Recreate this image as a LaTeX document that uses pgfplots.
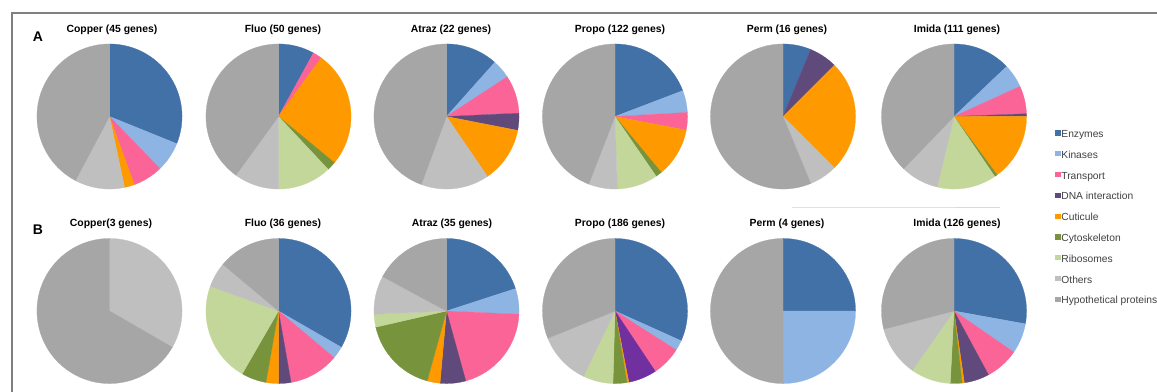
\documentclass[border=0pt]{standalone}
\usepackage{pgfplots}
\usepackage{pgfplotstable}
\pgfplotsset{compat=1.18}
\usepackage{fontspec}
\setmainfont{Liberation Sans}

\definecolor{c0}{RGB}{66,113,167}
\definecolor{c1}{RGB}{142,180,227}
\definecolor{c2}{RGB}{250,100,150}
\definecolor{c3}{RGB}{96,74,123}
\definecolor{c4}{RGB}{255,153,0}
\definecolor{c5}{RGB}{119,147,60}
\definecolor{c6}{RGB}{196,215,155}
\definecolor{c7}{RGB}{191,191,191}
\definecolor{c8}{RGB}{166,166,166}
% variant palette (vivid purple for DNA interaction in Propo B)
\colorlet{d0}{c0}\colorlet{d1}{c1}\colorlet{d2}{c2}
\definecolor{d3}{RGB}{112,48,160}
\colorlet{d4}{c4}\colorlet{d5}{c5}\colorlet{d6}{c6}\colorlet{d7}{c7}\colorlet{d8}{c8}
\definecolor{bordergray}{RGB}{128,128,128}

% Row A: shares per category
\pgfplotstableread{
cat      CopperA FluoA AtrazA PropoA PermA ImidaA
Enzymes      14     4   11.6   19.2     1   12.9
Kinases       3     0    4.2    4.9     0    5.3
Transport     3     1    8.5    3.9     0    6.2
DNA           0     0    3.8    0.0     1    0.6
Cuticule      1    13   12.4   11.0     4   14.9
Cytoskeleton  0     1    0.0    1.4     0    0.6
Ribosomes     0     6    0.0    9.1     0   13.2
Others        5     5   15.2    6.4     1    8.5
Hypothetical 19    20   44.4   44.1     9   37.8
}\tableA

% Row B
\pgfplotstableread{
cat      CopperB FluoB AtrazB PropoB PermB ImidaB
Enzymes       0    12      7   31.7     1   27.8
Kinases       0     1      2    2.3     1   6.75
Transport     0     4      7    6.6     0    7.5
DNA           0     1      2    6.3     0    5.6
Cuticule      0     1      1    0.4     0    0.5
Cytoskeleton  0     2      6    3.1     0    2.6
Ribosomes     0     8      1    6.7     0    8.9
Others        1     2      3   11.7     0   11.2
Hypothetical  2     5      6   31.1     2   29.0
}\tableB

\def\R{54.4pt}

\newcommand{\drawpie}[5]{% #1 table, #2 column, #3 cx, #4 cy, #5 colour prefix
  \def\tot{0}%
  \pgfplotsforeachungrouped \i in {0,...,8}{%
    \pgfplotstablegetelem{\i}{#2}\of#1%
    \pgfmathsetmacro\tot{\tot+\pgfplotsretval}%
  }%
  \def\cum{0}%
  \pgfplotsforeachungrouped \i in {0,...,8}{%
    \pgfplotstablegetelem{\i}{#2}\of#1%
    \let\val\pgfplotsretval
    \pgfmathsetmacro\sa{90-360*(\cum/\tot)}%
    \pgfmathsetmacro\cum{\cum+\val}%
    \pgfmathsetmacro\ea{90-360*(\cum/\tot)}%
    \edef\cname{#5\i}%
    \ifdim\val pt>0pt
      \filldraw[color=\cname, line width=0.2pt] (axis cs:#3,#4) -- ++(\sa:\R) arc[start angle=\sa, end angle=\ea, radius=\R] -- cycle;
    \fi
  }%
}

\begin{document}
\begin{tikzpicture}
\begin{axis}[
  name=main,
  x=0.75pt, y=0.75pt, y dir=reverse,
  xmin=0, xmax=1157, ymin=0, ymax=392,
  enlargelimits=false,
  hide axis, clip=false,
  legend style={at={(axis cs:1055,128.5)}, anchor=north west, draw=none, fill=none,
    inner sep=0pt, font=\fontsize{7.7}{9}\selectfont\color{black!75},
    row sep=6.4pt, cells={anchor=west},
    nodes={inner sep=1pt, text height=5.6pt, text depth=1.6pt}},
]
\addplot[forget plot, draw=none] coordinates {(0,0)};

\addlegendimage{legend image code/.code={\fill[c0] (0pt,0pt) rectangle (3.2pt,3.2pt);}}
\addlegendentry{Enzymes}
\addlegendimage{legend image code/.code={\fill[c1] (0pt,0pt) rectangle (3.2pt,3.2pt);}}
\addlegendentry{Kinases}
\addlegendimage{legend image code/.code={\fill[c2] (0pt,0pt) rectangle (3.2pt,3.2pt);}}
\addlegendentry{Transport}
\addlegendimage{legend image code/.code={\fill[c3] (0pt,0pt) rectangle (3.2pt,3.2pt);}}
\addlegendentry{DNA interaction}
\addlegendimage{legend image code/.code={\fill[c4] (0pt,0pt) rectangle (3.2pt,3.2pt);}}
\addlegendentry{Cuticule}
\addlegendimage{legend image code/.code={\fill[c5] (0pt,0pt) rectangle (3.2pt,3.2pt);}}
\addlegendentry{Cytoskeleton}
\addlegendimage{legend image code/.code={\fill[c6] (0pt,0pt) rectangle (3.2pt,3.2pt);}}
\addlegendentry{Ribosomes}
\addlegendimage{legend image code/.code={\fill[c7] (0pt,0pt) rectangle (3.2pt,3.2pt);}}
\addlegendentry{Others}
\addlegendimage{legend image code/.code={\fill[c8] (0pt,0pt) rectangle (3.2pt,3.2pt);}}
\addlegendentry{Hypothetical proteins}

\pgfplotsextra{%
  \drawpie{\tableA}{CopperA}{109.5}{116.5}{c}%
  \drawpie{\tableA}{FluoA}{278.5}{116.5}{c}%
  \drawpie{\tableA}{AtrazA}{446.5}{116.5}{c}%
  \drawpie{\tableA}{PropoA}{615}{116.5}{c}%
  \drawpie{\tableA}{PermA}{783}{116.5}{c}%
  \drawpie{\tableA}{ImidaA}{954}{116.5}{c}%
  \drawpie{\tableB}{CopperB}{109.5}{311}{c}%
  \drawpie{\tableB}{FluoB}{278.5}{311}{c}%
  \drawpie{\tableB}{AtrazB}{446.5}{311}{c}%
  \drawpie{\tableB}{PropoB}{615}{311}{d}%
  \drawpie{\tableB}{PermB}{783}{311}{c}%
  \drawpie{\tableB}{ImidaB}{954}{311}{c}%
}

% frame (top and left edges)
\draw[bordergray, line width=1.5pt] (axis cs:12,392) -- (axis cs:12,13) -- (axis cs:1157,13);
% faint separator
\draw[color={rgb,255:red,222;green,224;blue,236}, line width=0.7pt] (axis cs:792,207) -- (axis cs:955,207);
\draw[color={rgb,255:red,242;green,205;blue,215}, line width=0.7pt] (axis cs:955,207) -- (axis cs:1000,207);

% panel labels
\node[font=\fontsize{10.5}{12}\selectfont\bfseries] at (axis cs:38,37) {A};
\node[font=\fontsize{10.5}{12}\selectfont\bfseries] at (axis cs:38,230) {B};

% titles
\begin{scope}[every node/.style={font=\fontsize{7.8}{9}\selectfont\bfseries}]
\node at (axis cs:112,30) {Copper (45 genes)};
\node at (axis cs:283,30) {Fluo (50 genes)};
\node at (axis cs:451,30) {Atraz (22 genes)};
\node at (axis cs:620,30) {Propo (122 genes)};
\node at (axis cs:787,30) {Perm (16 genes)};
\node at (axis cs:957,30) {Imida (111 genes)};
\node at (axis cs:111,224) {Copper(3 genes)};
\node at (axis cs:283,224) {Fluo (36 genes)};
\node at (axis cs:452,224) {Atraz (35 genes)};
\node at (axis cs:620,224) {Propo (186 genes)};
\node at (axis cs:787,224) {Perm (4 genes)};
\node at (axis cs:957,224) {Imida (126 genes)};
\end{scope}
\end{axis}
\pgfresetboundingbox
\path (main.south west) rectangle (main.north east);
\end{tikzpicture}
\end{document}
